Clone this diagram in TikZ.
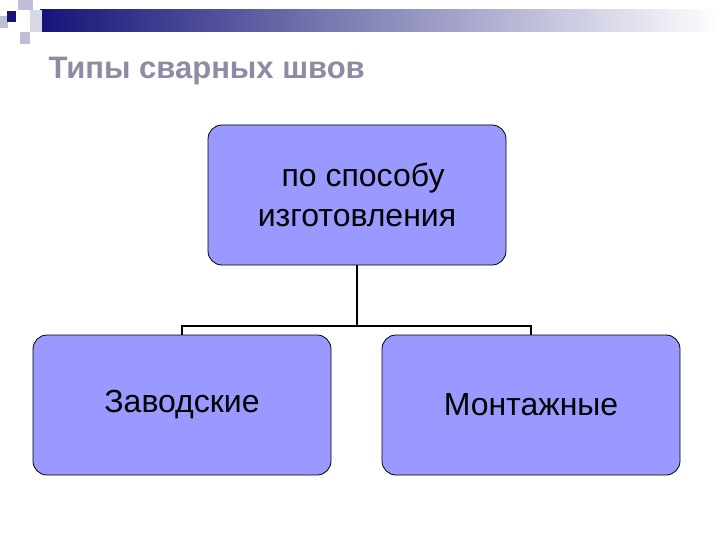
\documentclass[tikz,border=0pt]{standalone}
\usepackage{fontspec}
\setmainfont{Liberation Sans}
\definecolor{boxfill}{RGB}{153,153,255}
\definecolor{titlec}{RGB}{140,140,165}
\definecolor{navy}{RGB}{20,20,120}
\definecolor{lightsq}{RGB}{190,190,215}
\begin{document}
\begin{tikzpicture}[x=1pt,y=-1pt,
  box/.style={draw=black,line width=0.8pt,fill=boxfill,rounded corners=14pt,minimum width=298pt,minimum height=140pt,font=\fontsize{32}{40}\selectfont,align=center,text=black},
  conn/.style={draw=black,line width=1.2pt}]
\useasboundingbox (0,0) rectangle (720,540);
\fill[white] (0,0) rectangle (720,540);
\shade[left color=navy,right color=white] (40,10) rectangle (720,32);
\fill[lightsq] (18,0) rectangle (33,10);
\fill[lightsq] (0,16) rectangle (8,28);
\fill[lightsq] (20,32) rectangle (30,44);
\fill[lightsq!60] (30,10) rectangle (42,32);
\fill[navy] (7,11) rectangle (16,22);
\node[anchor=base west,text=titlec,font=\bfseries\fontsize{31}{36}\selectfont] (title) at (45,79) {Типы сварных швов};
\node[box] (top) at (357,195) {\hspace*{12pt}по способу\\изготовления};
\node[box] (left) at (182,405) {Заводские};
\node[box] (right) at (531,405) {Монтажные};
\coordinate (j) at (357,326);
\draw[conn] (top.south) -- (j);
\draw[conn] (left.north) |- (j) -| (right.north);
\end{tikzpicture}
\end{document}
